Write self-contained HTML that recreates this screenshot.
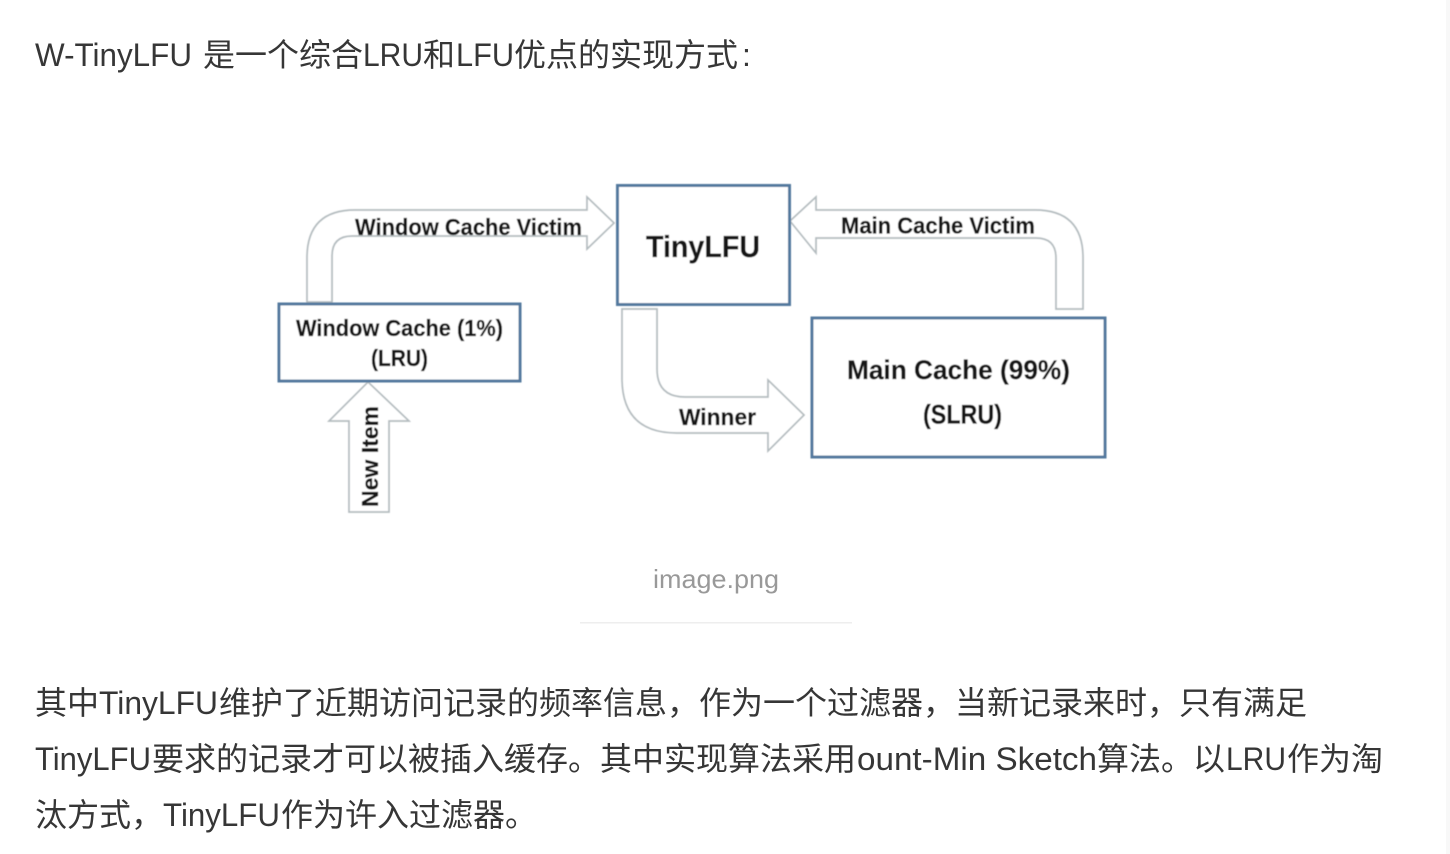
<!DOCTYPE html>
<html lang="zh">
<head>
<meta charset="utf-8">
<style>
html,body{margin:0;padding:0;background:#fff;width:1450px;height:854px;overflow:hidden}
svg{position:absolute;left:0;top:0;display:block}
.t{font-family:"Liberation Sans","Noto Sans CJK SC",sans-serif;font-size:32px;fill:#363636}
.d{font-family:"Liberation Sans",sans-serif;font-weight:bold;fill:#161616;stroke:#161616;stroke-width:.25}
.a{fill:#fff;stroke:#b4bcbf;stroke-width:1.7}
.b{fill:#fff;stroke:#52799e;stroke-width:3}
</style>
</head>
<body>
<svg width="1450" height="854" viewBox="0 0 1450 854" xmlns="http://www.w3.org/2000/svg">
<defs><filter id="s" x="-5%" y="-5%" width="110%" height="110%"><feGaussianBlur stdDeviation="0.45"/></filter></defs>
<rect x="1446" y="0" width="4" height="854" fill="#f8f8f8"/>

<text class="t" x="35" y="66" textLength="157" lengthAdjust="spacingAndGlyphs">W-TinyLFU</text>
<text class="t" x="203" y="66">是一个综合</text>
<text class="t" x="363" y="66" textLength="60" lengthAdjust="spacingAndGlyphs">LRU</text>
<text class="t" x="423" y="66">和</text>
<text class="t" x="456" y="66" textLength="58" lengthAdjust="spacingAndGlyphs">LFU</text>
<text class="t" x="514" y="66">优点的实现方式</text>
<text class="t" x="742" y="66">:</text>

<g filter="url(#s)">
<path class="a" d="M307 302 V258 Q307 210 355 210 H587 V197 L614 223 L587 249 V236 H352 Q332 236 332 256 V302 Z"/>
<path class="a" d="M790 221 L816 197 V210 H1035 Q1083 210 1083 258 V309 H1056 V258 Q1056 238 1036 238 H816 V253 Z"/>
<path class="a" d="M622 309 H657 V369 Q657 397 685 397 H768 V380 L804 415 L768 451 V433 H677 Q622 433 622 378 Z"/>
<path class="a" d="M368 382 L409 421 H389 V512 H349 V421 H329 Z"/>
<rect class="b" x="279" y="304" width="241" height="77"/>
<rect class="b" x="617.500" y="185.500" width="172" height="119"/>
<rect class="b" x="812" y="318" width="293" height="139"/>

<text class="d" x="355" y="235" font-size="23" textLength="227" lengthAdjust="spacingAndGlyphs">Window Cache Victim</text>
<text class="d" x="841" y="233.500" font-size="23" textLength="194" lengthAdjust="spacingAndGlyphs">Main Cache Victim</text>
<text class="d" x="679" y="425" font-size="23" textLength="77" lengthAdjust="spacingAndGlyphs">Winner</text>
<text class="d" x="646" y="257" font-size="31" textLength="114" lengthAdjust="spacingAndGlyphs">TinyLFU</text>
<text class="d" x="296" y="336" font-size="23" textLength="207" lengthAdjust="spacingAndGlyphs">Window Cache (1%)</text>
<text class="d" x="371" y="366" font-size="23" textLength="57" lengthAdjust="spacingAndGlyphs">(LRU)</text>
<text class="d" x="847" y="379" font-size="27" textLength="223" lengthAdjust="spacingAndGlyphs">Main Cache (99%)</text>
<text class="d" x="923" y="423.500" font-size="27" textLength="79" lengthAdjust="spacingAndGlyphs">(SLRU)</text>
<text class="d" transform="translate(378,507) rotate(-90)" font-size="23" textLength="101" lengthAdjust="spacingAndGlyphs">New Item</text>
</g>

<text x="653" y="588" font-family="'Liberation Sans',sans-serif" font-size="26" fill="#999" textLength="126" lengthAdjust="spacingAndGlyphs">image.png</text>
<rect x="580" y="622" width="272" height="1.500" fill="#eeeeee"/>

<text class="t" x="35" y="714">其中</text>
<text class="t" x="99" y="714" textLength="119" lengthAdjust="spacingAndGlyphs">TinyLFU</text>
<text class="t" x="219" y="714">维护了近期访问记录的频率信息&#xFF0C;</text>
<text class="t" x="699" y="714">作为一个过滤器&#xFF0C;</text>
<text class="t" x="955" y="714">当新记录来时&#xFF0C;</text>
<text class="t" x="1179" y="714">只有满足</text>

<text class="t" x="35" y="770" textLength="116" lengthAdjust="spacingAndGlyphs">TinyLFU</text>
<text class="t" x="152" y="770">要求的记录才可以被插入缓存。其中实现算法采用</text>
<text class="t" x="857" y="770" textLength="240" lengthAdjust="spacingAndGlyphs">ount-Min Sketch</text>
<text class="t" x="1097" y="770">算法。以</text>
<text class="t" x="1226" y="770" textLength="60" lengthAdjust="spacingAndGlyphs">LRU</text>
<text class="t" x="1287" y="770">作为淘</text>

<text class="t" x="35" y="826">汰方式&#xFF0C;</text>
<text class="t" x="163" y="826" textLength="117" lengthAdjust="spacingAndGlyphs">TinyLFU</text>
<text class="t" x="281" y="826">作为许入过滤器。</text>
</svg>
</body>
</html>
